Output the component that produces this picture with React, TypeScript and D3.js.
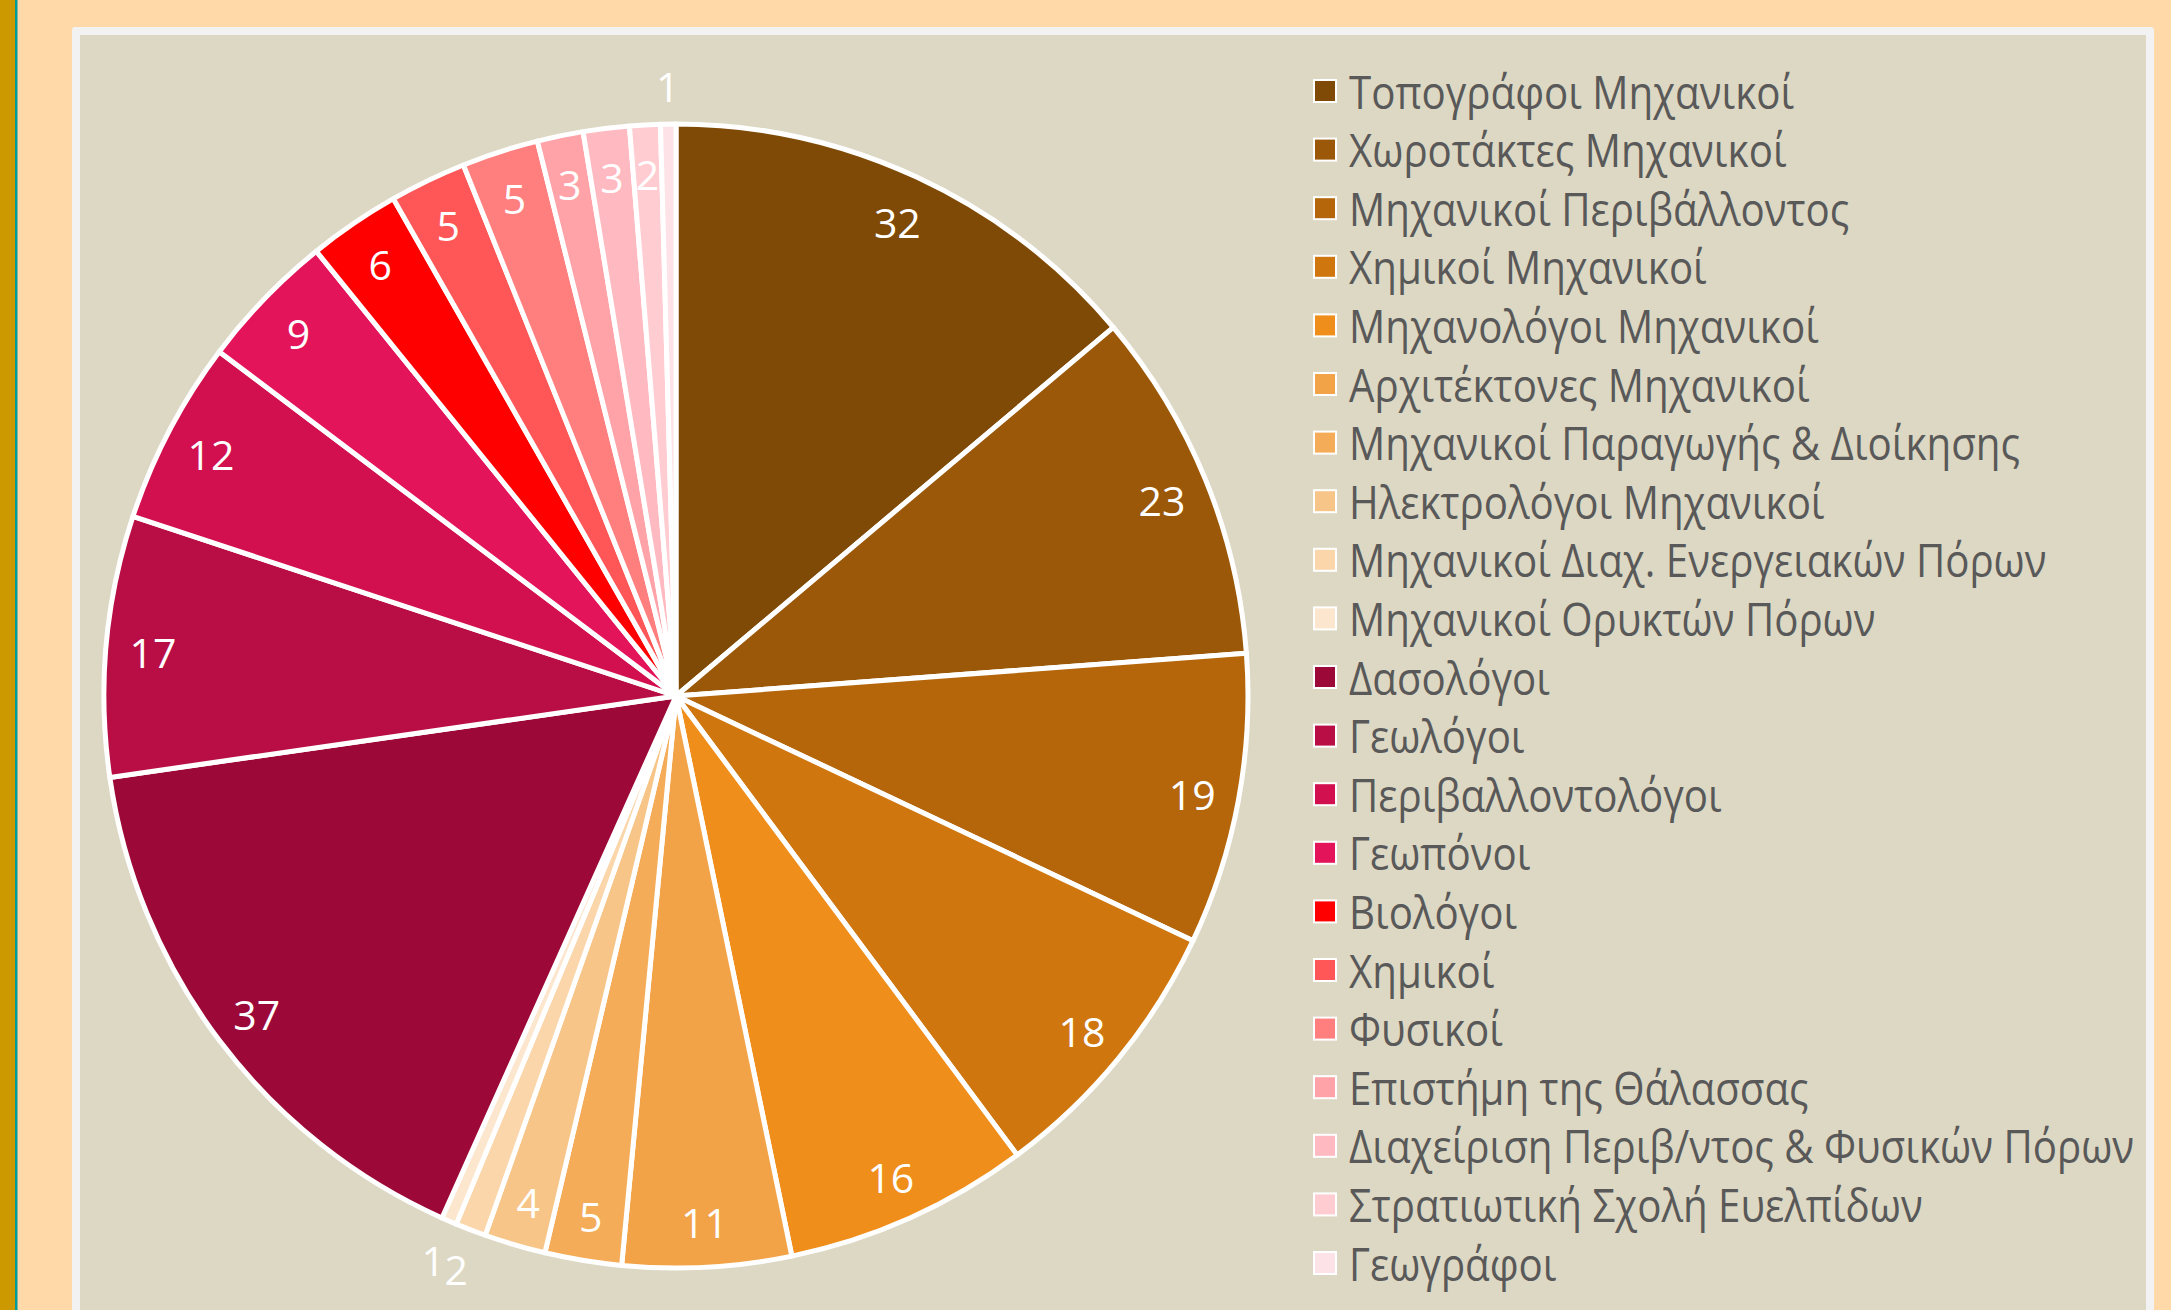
import React from "react";
import * as d3 from "d3";

const categories: string[] = [
  "Τοπογράφοι Μηχανικοί",
  "Χωροτάκτες Μηχανικοί",
  "Μηχανικοί Περιβάλλοντος",
  "Χημικοί Μηχανικοί",
  "Μηχανολόγοι Μηχανικοί",
  "Αρχιτέκτονες Μηχανικοί",
  "Μηχανικοί Παραγωγής & Διοίκησης",
  "Ηλεκτρολόγοι Μηχανικοί",
  "Μηχανικοί Διαχ. Ενεργειακών  Πόρων",
  "Μηχανικοί Ορυκτών Πόρων",
  "Δασολόγοι",
  "Γεωλόγοι",
  "Περιβαλλοντολόγοι",
  "Γεωπόνοι",
  "Βιολόγοι",
  "Χημικοί",
  "Φυσικοί",
  "Επιστήμη της Θάλασσας",
  "Διαχείριση Περιβ/ντος & Φυσικών Πόρων",
  "Στρατιωτική Σχολή Ευελπίδων",
  "Γεωγράφοι",
];

const values: number[] = [32, 23, 19, 18, 16, 11, 5, 4, 2, 1, 37, 17, 12, 9, 6, 5, 5, 3, 3, 2, 1];

const colors: string[] = [
  "#7F4A06", "#9A5808", "#B5660B", "#D0760E", "#F08E1C", "#F2A347", "#F4AC58",
  "#F7C587", "#FAD6AA", "#FCE6CE",
  "#9C0838", "#B90E45", "#D2104F", "#E3145A", "#FF0000", "#FF5757", "#FF7F7F",
  "#FFA3A8", "#FFB9C0", "#FFCCD2", "#FDE3E7",
];

// labels placed outside the pie (tiny slices)
const outsideLabels: boolean[] = values.map((v) => v === 1);
outsideLabels[8] = true; // "2" of Διαχ. Ενεργειακών Πόρων sits outside

export default function App() {
  const W = 2171;
  const H = 1310;
  const cx = 676;
  const cy = 696;
  const R = 572;

  const pie = d3
    .pie<number>()
    .sort(null)
    .value((d) => d)
    .startAngle(0)
    .endAngle(2 * Math.PI);
  const arcs = pie(values);
  const arcGen = d3.arc<d3.PieArcDatum<number>>().innerRadius(0).outerRadius(R);
  const inLabel = d3.arc<d3.PieArcDatum<number>>().innerRadius(525).outerRadius(525);
  const outLabel = d3.arc<d3.PieArcDatum<number>>().innerRadius(612).outerRadius(612);

  const legendY = d3
    .scaleLinear()
    .domain([0, categories.length - 1])
    .range([91, 91 + 58.6 * (categories.length - 1)]);

  return (
    <svg
      width={W}
      height={H}
      style={{ position: "absolute", left: 0, top: 0, display: "block" }}
    >
      <rect x={0} y={0} width={W} height={H} fill="#FFD9A8" />
      <rect x={0} y={0} width={15} height={H} fill="#CC9900" />
      <rect x={15} y={0} width={2.5} height={H} fill="#009999" />
      <rect x={72} y={27} width={2082} height={H + 20} rx={3} fill="#F2F2F2" />
      <rect x={80} y={35} width={2066} height={H + 20} fill="#DDD8C3" />

      <g transform={`translate(${cx},${cy})`}>
        {arcs.map((a, i) => (
          <path
            key={i}
            d={arcGen(a) || ""}
            fill={colors[i]}
            stroke="#FFFFFF"
            strokeWidth={5}
            strokeLinejoin="round"
          />
        ))}
        {arcs.map((a, i) => {
          const [x, y] = outsideLabels[i] ? outLabel.centroid(a) : inLabel.centroid(a);
          return (
            <text
              key={"l" + i}
              x={x}
              y={y + 2}
              textAnchor="middle"
              dominantBaseline="central"
              fill="#FFFFFF"
              fontFamily="'Open Sans', sans-serif"
              fontSize={41}
            >
              {values[i]}
            </text>
          );
        })}
      </g>

      <g>
        {categories.map((c, i) => (
          <g key={c} transform={`translate(0,${legendY(i)})`}>
            <rect x={1314} y={-11} width={22} height={22} fill={colors[i]} stroke="#FFFFFF" strokeWidth={2} />
            <text
              transform="translate(1349,0) scale(0.875,1)"
              x={0}
              y={0}
              dominantBaseline="central"
              fill="#595959"
              fontFamily="'Open Sans', sans-serif"
              fontSize={46}
            >
              {c}
            </text>
          </g>
        ))}
      </g>
    </svg>
  );
}
